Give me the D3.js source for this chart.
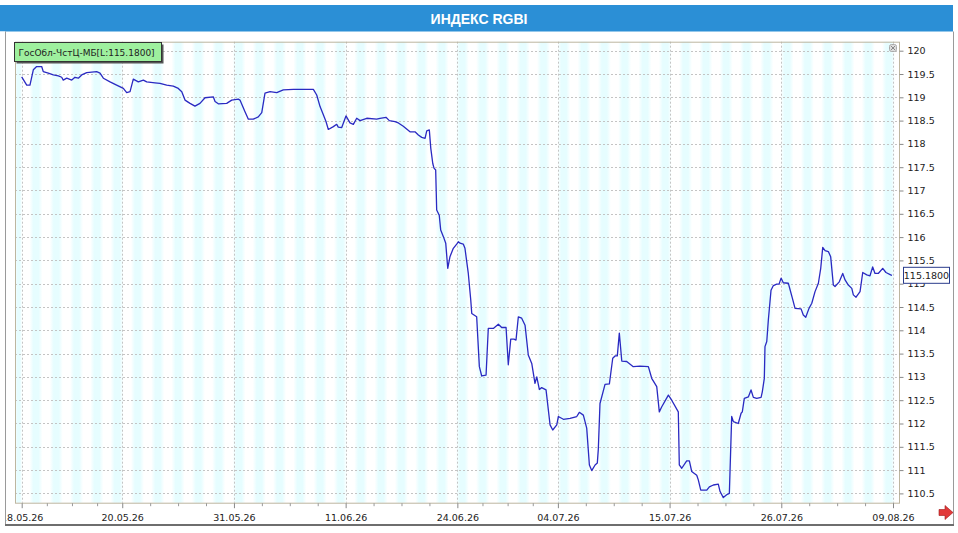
<!DOCTYPE html>
<html><head><meta charset="utf-8">
<script src="https://cdn.jsdelivr.net/npm/d3@7"></script>
<style>
html,body{margin:0;padding:0;background:#fff;}
svg{display:block;}
text{font-family:"DejaVu Sans",Verdana,sans-serif;}
</style></head>
<body>
<svg id="c" width="958" height="533"></svg>
<script>
// ---- data ----
const titleText = "ИНДЕКС RGBI";
const legendText = "ГосОбл-ЧстЦ-МБ[L:115.1800]";
const lastValueLabel = "115.1800";
const xTickDays = [0, 9, 19, 29, 39, 48, 58, 68, 78];
const xTickLabels = ["18.05.26","20.05.26","31.05.26","11.06.26","24.06.26","04.07.26","15.07.26","26.07.26","09.08.26"];
const yTickValues = [110.5,111,111.5,112,112.5,113,113.5,114,114.5,115,115.5,116,116.5,117,117.5,118,118.5,119,119.5,120];
const yTickLabels = ["110.5","111","111.5","112","112.5","113","113.5","114","114.5","115","115.5","116","116.5","117","117.5","118","118.5","119","119.5","120"];
// time in trading days from first label
const seriesT = [0,0.45,0.74,1.04,1.34,1.79,1.93,2.38,2.83,3.28,3.58,3.72,4.03,4.48,4.77,5.07,5.37,5.82,6.71,7.01,
7.31,7.91,8.50,9.10,9.40,9.70,9.99,10.44,10.89,11.19,11.93,12.38,12.98,13.57,14.02,14.33,14.62,15.07,15.51,15.96,
16.41,17.15,17.31,17.60,18.35,18.80,19.39,19.54,19.99,20.29,20.73,21.18,21.49,21.78,22.23,22.83,23.42,24.32,26.11,26.41,
26.71,26.95,27.24,27.45,27.90,28.20,28.34,28.65,29.03,29.39,29.69,29.99,30.29,30.89,31.78,32.08,32.61,32.91,33.42,33.72,
34.16,34.76,35.21,35.51,35.81,36.11,36.26,36.49,36.62,36.80,36.91,37.06,37.15,37.38,37.51,37.75,37.96,38.14,38.34,38.64,
38.94,39.09,39.24,39.53,39.68,39.98,40.20,40.29,40.73,40.97,41.18,41.57,41.77,42.22,42.67,42.97,43.36,43.56,43.78,44.07,
44.25,44.46,44.76,45.06,45.35,45.66,45.95,46.11,46.34,46.55,46.94,47.30,47.54,47.90,48.04,48.49,49.09,49.69,49.92,50.28,
50.58,50.82,51.03,51.33,51.53,51.62,51.77,52.22,52.61,52.91,53.12,53.32,53.50,53.72,54.16,54.75,55.35,56.10,56.40,56.85,
57.08,57.30,57.89,58.19,58.78,58.87,59.09,59.53,59.77,59.98,60.43,60.57,60.79,61.33,61.56,61.92,62.36,62.52,62.81,63.11,
63.35,63.56,63.71,64.15,64.40,64.51,64.69,65.05,65.29,65.50,65.80,66.19,66.30,66.48,66.54,66.70,66.84,67.08,67.29,67.59,
67.80,67.98,68.18,68.63,68.99,69.23,69.77,69.97,70.19,70.48,70.73,71.02,71.32,71.53,71.71,71.92,72.21,72.42,72.66,72.81,
73.19,73.50,73.71,74.00,74.31,74.45,74.69,75.05,75.29,75.65,75.94,76.18,76.39,76.68,77.08,77.37,77.79,77.91];
const seriesV = [119.44,119.26,119.26,119.59,119.66,119.66,119.55,119.52,119.48,119.46,119.43,119.37,119.41,119.37,119.43,119.41,119.48,119.53,119.55,119.52,
119.41,119.33,119.26,119.19,119.10,119.12,119.39,119.33,119.37,119.33,119.31,119.30,119.26,119.24,119.19,119.12,118.94,118.87,118.81,118.87,
118.99,119.01,118.91,118.86,118.87,118.94,118.96,118.94,118.69,118.53,118.53,118.58,118.67,119.09,119.12,119.10,119.16,119.17,119.17,119.05,
118.80,118.66,118.48,118.31,118.37,118.42,118.36,118.35,118.60,118.45,118.42,118.55,118.50,118.55,118.53,118.55,118.57,118.50,118.48,118.45,
118.38,118.26,118.26,118.19,118.14,118.12,118.28,118.30,117.91,117.58,117.48,117.44,116.58,116.47,116.15,116.01,115.87,115.33,115.58,115.76,
115.85,115.90,115.87,115.85,115.76,115.22,114.65,114.36,114.29,113.22,113.02,113.04,114.04,114.04,114.13,114.06,114.06,113.26,113.81,113.81,
113.79,114.29,114.26,114.11,113.47,113.29,112.86,113.00,112.73,112.77,112.72,111.97,111.86,111.97,112.15,112.09,112.11,112.15,112.24,112.18,
111.90,111.11,110.99,111.11,111.15,111.45,112.43,112.84,112.85,113.40,113.45,113.45,113.94,113.34,113.33,113.22,113.23,113.22,112.97,112.79,
112.25,112.36,112.61,112.50,112.25,111.11,111.04,111.20,111.20,110.97,110.89,110.79,110.57,110.57,110.64,110.68,110.70,110.54,110.41,110.47,
110.50,112.15,112.04,112.00,112.22,112.25,112.54,112.57,112.72,112.56,112.54,112.56,112.68,112.97,113.65,113.76,114.22,114.86,114.96,114.99,
114.99,115.12,115.02,115.01,114.69,114.47,114.46,114.33,114.28,114.47,114.58,114.83,115.01,115.33,115.78,115.71,115.69,115.58,114.97,114.94,
115.04,115.22,115.08,114.97,114.90,114.76,114.71,114.83,115.24,115.19,115.17,115.36,115.22,115.22,115.33,115.24,115.19,115.18];

const data = seriesT.map((t,i)=>({t, v: seriesV[i]}));

// ---- layout ----
const svg = d3.select("#c");
const plot = {left:15, right:899, top:41.7, bottom:502.7};
const x = d3.scaleLinear().domain([0,78]).range([21.7, 893]);
const y = d3.scaleLinear().domain([110.5,120]).range([493.4, 50.7]);

// title bar
svg.append("rect").attr("x",0).attr("y",5).attr("width",953).attr("height",26.5).attr("fill","#2b8fd6");
svg.append("text").attr("x",479).attr("y",23.5).attr("text-anchor","middle")
  .attr("fill","#fff").attr("font-weight","bold").attr("font-size",14)
  .style("font-family","'Liberation Sans',Arial,sans-serif").text(titleText);

// stripes
const defs = svg.append("defs");
const g = defs.append("linearGradient").attr("id","stripe").attr("x1","0").attr("x2","1").attr("y1","0").attr("y2","0");
g.append("stop").attr("offset","0%").attr("stop-color","#ffffff");
g.append("stop").attr("offset","30%").attr("stop-color","#e6fdff");
g.append("stop").attr("offset","70%").attr("stop-color","#e6fdff");
g.append("stop").attr("offset","100%").attr("stop-color","#ffffff");
const period = 20.3, stripeW = 13;
const starts = d3.range(132 - period*6 - 1, plot.right, period).filter(s=>s+stripeW>plot.left);
svg.append("g").selectAll("rect").data(starts).join("rect")
  .attr("x",d=>Math.max(d,plot.left)).attr("y",plot.top)
  .attr("width",d=>Math.min(d+stripeW,plot.right)-Math.max(d,plot.left))
  .attr("height",plot.bottom-plot.top).attr("fill","url(#stripe)");

// grids
svg.append("g").selectAll("line").data(yTickValues).join("line")
  .attr("x1",plot.left).attr("x2",plot.right).attr("y1",d=>Math.round(y(d))+0.5).attr("y2",d=>Math.round(y(d))+0.5)
  .attr("stroke","#c4c4c4").attr("stroke-dasharray","2,2");
svg.append("g").selectAll("line").data(xTickDays).join("line")
  .attr("y1",plot.top).attr("y2",plot.bottom).attr("x1",d=>Math.round(x(d))+0.5).attr("x2",d=>Math.round(x(d))+0.5)
  .attr("stroke","#c4c4c4").attr("stroke-dasharray","2,2");

// plot border
svg.append("rect").attr("x",plot.left+0.5).attr("y",plot.top+0.5).attr("width",plot.right-plot.left).attr("height",plot.bottom-plot.top)
  .attr("fill","none").attr("stroke","#bdb6a0");

// axes
const yAxis = d3.axisRight(y).tickValues(yTickValues).tickSize(4).tickPadding(4)
  .tickFormat((d,i)=>yTickLabels[i]);
const yg = svg.append("g").attr("transform",`translate(${plot.right+0.5},0)`).call(yAxis);
yg.select(".domain").remove();
yg.selectAll("line").attr("stroke","#888");
yg.selectAll("text").attr("font-size",9.5).attr("fill","#222").style("font-family","'DejaVu Sans',Verdana,sans-serif");

const xAxis = d3.axisBottom(x).tickValues(xTickDays).tickSize(5).tickPadding(6)
  .tickFormat((d,i)=>xTickLabels[i]);
const xg = svg.append("g").attr("transform",`translate(0,${plot.bottom+0.5})`).call(xAxis);
xg.select(".domain").remove();
xg.selectAll("line").attr("stroke","#888");
xg.selectAll("text").attr("font-size",9.5).attr("fill","#222").style("font-family","'DejaVu Sans',Verdana,sans-serif");

const minor = [];
for (let i=0;i<xTickDays.length-1;i++){
  const a=xTickDays[i], b=xTickDays[i+1];
  for (let k=1;k<4;k++) minor.push(a+(b-a)*k/4);
}
const xmg = svg.append("g").attr("transform",`translate(0,${plot.bottom+0.5})`)
  .call(d3.axisBottom(x).tickValues(minor).tickSize(3).tickFormat(""));
xmg.select(".domain").remove();
xmg.selectAll("line").attr("stroke","#999");

// outer frame
svg.append("rect").attr("x",0).attr("y",31.5).attr("width",5).attr("height",495).attr("fill","#fff");
svg.append("line").attr("x1",5.5).attr("x2",5.5).attr("y1",31.5).attr("y2",524).attr("stroke","#9a9a9a");
svg.append("line").attr("x1",953.5).attr("x2",953.5).attr("y1",31.5).attr("y2",524).attr("stroke","#9a9a9a");
svg.append("line").attr("x1",5).attr("x2",954).attr("y1",525).attr("y2",525).attr("stroke","#6e6e6e").attr("stroke-width",2);

// series line
svg.append("path").datum(data)
  .attr("d", d3.line().x(d=>x(d.t)).y(d=>y(d.v)))
  .attr("fill","none").attr("stroke","#2a2ac2").attr("stroke-width",1.3).attr("stroke-linejoin","round");

// last value box
const last = data[data.length-1];
const ly = y(last.v);
svg.append("rect").attr("x",903.5).attr("y",ly-8).attr("width",46).attr("height",16)
  .attr("fill","#fff").attr("stroke","#2a3c8c");
svg.append("text").attr("x",926.5).attr("y",ly+3.5).attr("text-anchor","middle").attr("font-size",9.5)
  .attr("fill","#222").text(lastValueLabel);

// legend box
svg.append("rect").attr("x",16.5).attr("y",44.5).attr("width",147).attr("height",19).attr("fill","#555");
svg.append("rect").attr("x",14.5).attr("y",42.5).attr("width",147).attr("height",19)
  .attr("fill","#9ef09e").attr("stroke","#333");
svg.append("text").attr("x",18.5).attr("y",56).attr("font-size",9).attr("fill","#222").text(legendText);

// close icon
svg.append("rect").attr("x",889.5).attr("y",44.5).attr("width",7).attr("height",7).attr("rx",2)
  .attr("fill","#ddd").attr("stroke","#aaa");
svg.append("path").attr("d","M891,46L895,50M895,46L891,50").attr("stroke","#888").attr("stroke-width",1);

// red arrow
svg.append("path").attr("d","M939,509.5h6v-4l8,7l-8,7v-4h-6z").attr("fill","#e23a3a").attr("stroke","#a01818").attr("stroke-width",0.6);
</script>
</body></html>
